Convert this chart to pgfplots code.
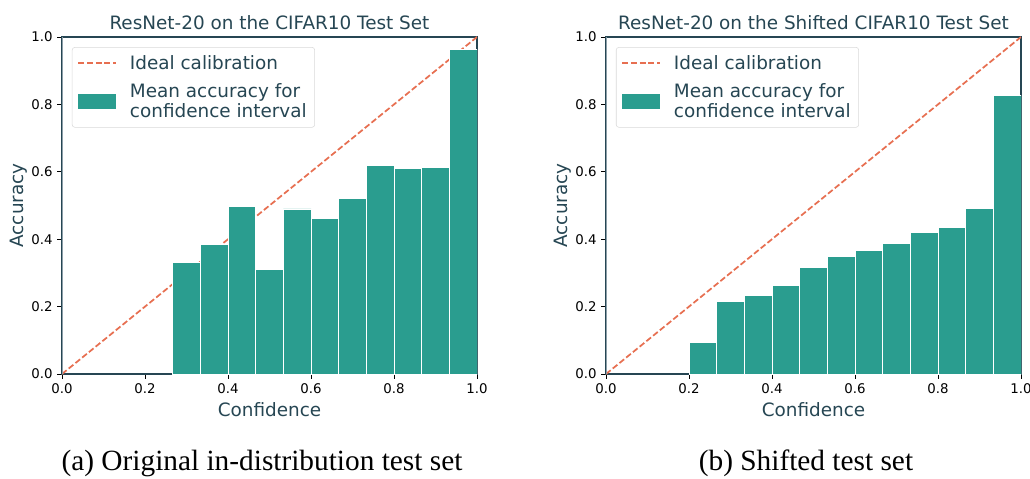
\documentclass[border=0pt]{standalone}
\usepackage{fontspec}
\setmainfont{DejaVu Sans}
\newfontfamily\capfont{Liberation Serif}
\usepackage{pgfplots}
\pgfplotsset{compat=1.18}
\definecolor{barcol}{HTML}{2A9D8F}
\definecolor{linecol}{HTML}{E76F51}
\definecolor{txtcol}{HTML}{264653}
\definecolor{spinecol}{HTML}{8C9EA8}

\pgfplotsset{reldiag/.style={
  width=311.25pt, height=252.75pt, scale only axis,
  anchor=south west,
  xmin=0, xmax=1, ymin=0, ymax=1,
  xtick={0,0.2,0.4,0.6,0.8,1}, ytick={0,0.2,0.4,0.6,0.8,1},
  xtick pos=bottom, ytick pos=left,
  tick align=outside, major tick length=3.5pt,
  tick style={black, line width=0.6pt},
  axis line style={txtcol, line width=0.8pt},
  ticklabel style={font=\fontsize{10}{12}\selectfont, black},
  /pgf/number format/.cd, fixed, fixed zerofill, precision=1, assume math mode=true,
  /pgfplots/.cd,
  label style={font=\fontsize{13.8}{16}\selectfont, text=txtcol},
  title style={font=\fontsize{13.8}{16}\selectfont, text=txtcol, yshift=-4pt},
  ylabel shift=-4pt,
  xlabel=Confidence, ylabel=Accuracy,
  legend style={at={(0.024,0.97)}, anchor=north west, draw=black!15,
    rounded corners=2pt, fill=white, font=\fontsize{13.8}{15}\selectfont,
    text=txtcol, cells={align=left}, column sep=8pt, row sep=5pt,
    inner xsep=4pt, inner ysep=4pt},
  legend cell align=left,
},
ideal/.style={linecol, line width=1.3pt, dash pattern=on 4.5pt off 2pt,
  legend image code/.code={\draw[sharp corners, linecol, line width=1.3pt, dash pattern=on 4.5pt off 2pt] (0pt,0pt) -- (28pt,0pt);}},
bins/.style={ybar interval, fill=barcol, draw=white, line width=0.5pt,
  legend image code/.code={\fill[sharp corners, barcol] (0pt,-5.2pt) rectangle (28pt,5.2pt);}}
}

\begin{document}
\begin{tikzpicture}
\useasboundingbox (0,0) rectangle (772.5pt,358.5pt);

\begin{axis}[reldiag, at={(46.5pt,78pt)}, title={ResNet-20 on the CIFAR10 Test Set}]
\addplot[ideal] coordinates {(0,0) (1,1)};
\addlegendentry{Ideal calibration}
\addplot[bins]
  coordinates {(0.26667,0.332) (0.33333,0.384) (0.4,0.498) (0.46667,0.310)
    (0.53333,0.490) (0.6,0.461) (0.66667,0.522) (0.73333,0.620)
    (0.8,0.609) (0.86667,0.614) (0.93333,0.962) (1,0.962)};
\addlegendentry{Mean accuracy for\\confidence interval}
\draw[spinecol, line width=1pt] (rel axis cs:0,0) -- (rel axis cs:0,1);
\end{axis}

\begin{axis}[reldiag, at={(454.5pt,78pt)}, title={ResNet-20 on the Shifted CIFAR10 Test Set}]
\addplot[ideal] coordinates {(0,0) (1,1)};
\addlegendentry{Ideal calibration}
\addplot[bins]
  coordinates {(0.2,0.093) (0.26667,0.215) (0.33333,0.232) (0.4,0.262)
    (0.46667,0.316) (0.53333,0.348) (0.6,0.366) (0.66667,0.387)
    (0.73333,0.419) (0.8,0.434) (0.86667,0.491) (0.93333,0.826) (1,0.826)};
\addlegendentry{Mean accuracy for\\confidence interval}
\draw[spinecol, line width=1pt] (rel axis cs:0,0) -- (rel axis cs:0,1);
\end{axis}

\node[font=\capfont\fontsize{22}{25}\selectfont, anchor=base] at (196.5pt,6pt) {(a) Original in-distribution test set};
\node[font=\capfont\fontsize{22}{25}\selectfont, anchor=base] at (604.5pt,6pt) {(b) Shifted test set};
\end{tikzpicture}
\end{document}
